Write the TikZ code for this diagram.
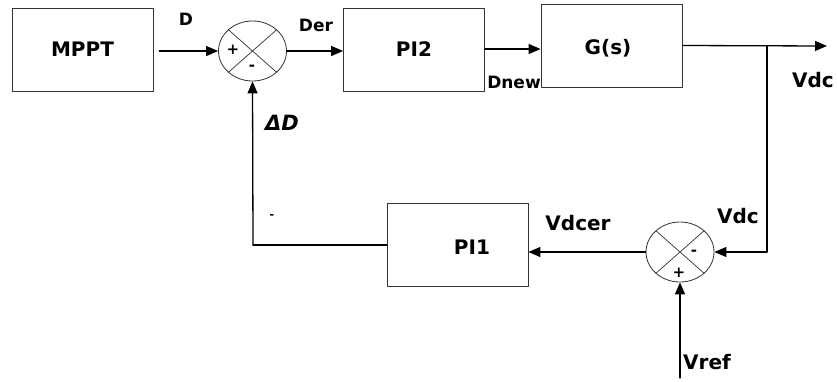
\documentclass[tikz,border=0pt]{standalone}
\usepackage{fontspec}
\setmainfont{DejaVu Sans}
\usetikzlibrary{arrows.meta,shapes.geometric,calc}

\begin{document}
\begin{tikzpicture}[x=1pt, y=-1pt, line cap=round, line join=round,
	every node/.append style={font=\fontsize{20}{22}\selectfont\bfseries},
	blok/.style={draw=black!80, line width=.8pt, rectangle, inner sep=0pt, minimum width=141, minimum height=83},
	somme/.style={draw=black!80, line width=.8pt, ellipse, inner sep=0pt, minimum width=68, minimum height=60,
		path picture={\draw[line width=.7pt] (path picture bounding box.north west) -- (path picture bounding box.south east)
			(path picture bounding box.north east) -- (path picture bounding box.south west);}},
	signe/.style={font=\fontsize{15}{16}\selectfont\bfseries, inner sep=0pt},
	petit/.style={font=\fontsize{17}{19}\selectfont\bfseries, inner sep=0pt},
	fleche/.style={line width=1.3pt, -{Triangle[length=12pt, width=10pt]}},
	ligne/.style={line width=1.3pt}]
	
	\useasboundingbox (0,0) rectangle (837,381);
	
	% Blocs
	\node[blok] (mppt) at (82.5,49.5) {MPPT};
	\node[blok] (pi2) at (414,49.5) {PI2};
	\node[blok] (gs) at (611.5,45.5) {};
	\node[inner sep=0pt] (gstxt) at (608,48) {G(s)};
	\node[blok] (pi1) at (457.5,244.5) {};
	\node[inner sep=0pt] (pi1txt) at (472,247) {PI1};
	
	% Sommateurs
	\node[somme] (s1) at (252.5,51) {};
	\node[signe] (s1p) at (233,50) {+};
	\node[signe] (s1m) at (252,68) {-};
	\node[somme] (s2) at (680,252) {};
	\node[signe] (s2m) at (694,253) {-};
	\node[signe] (s2p) at (679,273) {+};
	
	% Points libres
	\coordinate (sortie) at (827,46);
	\coordinate (noeud) at (767,46);
	\coordinate (vrefbas) at (680,378);
	\coordinate (coin) at (253,245);
	
	% Liaisons chaine directe
	\draw[fleche, shorten <=6pt] (mppt.east |- s1.west) -- (s1.west);
	\draw[fleche] (s1.east) -- (s1.east -| pi2.west);
	\draw[fleche] (pi2.east |- 0,49) -- (gs.west |- 0,49);
	\draw[fleche] (gs.east) -- (sortie);
	
	% Retour Vdc
	\draw[ligne] (noeud) -- (noeud |- s2.east);
	\draw[fleche] (noeud |- s2.east) -- (s2.east);
	\draw[fleche] (vrefbas) -- (s2.south);
	\draw[fleche] (s2.west) -- (s2.west -| pi1.east);
	
	% Retour vers le premier sommateur
	\draw[ligne] (pi1.west |- coin) -- (coin);
	\draw[fleche] (coin) -- (s1.south);
	
	% Etiquettes
	\node[petit] (lD) at (186,19) {D};
	\node[petit] (lDer) at (316,25) {Der};
	\node[petit] (lDnew) at (514,82) {Dnew};
	\node[inner sep=0pt] (lVdc) at (813,80) {Vdc};
	\node[inner sep=0pt] (lVdc2) at (738,216) {Vdc};
	\node[inner sep=0pt] (lVdcer) at (578,223) {Vdcer};
	\node[inner sep=0pt] (lVref) at (707,362) {Vref};
	\node[inner sep=0pt, font=\fontsize{21}{23}\selectfont\bfseries\itshape] (lDD) at (282,123) {ΔD};
	\node[signe, font=\fontsize{11}{12}\selectfont\bfseries] (ltiret) at (272,217) {-};
	
\end{tikzpicture}
\end{document}
